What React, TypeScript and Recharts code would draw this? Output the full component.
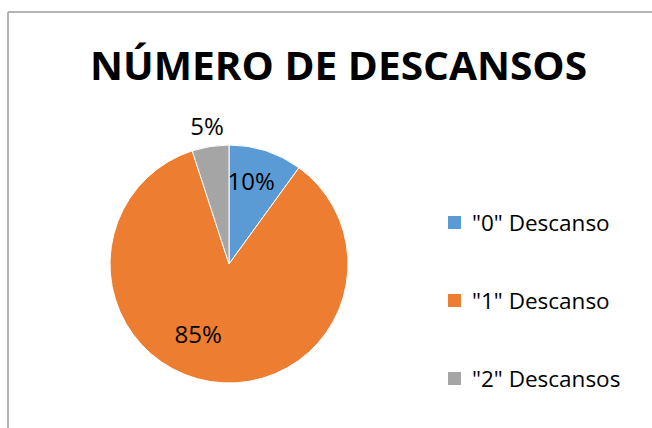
import React from 'react';
import { PieChart, Pie, Cell, Legend } from 'recharts';

const categories = ['"0" Descanso', '"1" Descanso', '"2" Descansos'];
const shares = [10, 85, 5];
const COLORS = ['#5B9BD5', '#ED7D31', '#A5A5A5'];

const data = categories.map((name, i) => ({ name, value: shares[i] }));

// Excel "best fit" label placement: radius in px from the centre, angle tweak in degrees
const labelRadius = [86, 76, 140];
const labelAngleShift = [3, -15, 0];
const RAD = Math.PI / 180;

const renderLabel = (props: any) => {
  const { cx, cy, midAngle, index, value } = props;
  const a = (midAngle + labelAngleShift[index]) * RAD;
  const r = labelRadius[index];
  const x = cx + r * Math.cos(a);
  const y = cy - r * Math.sin(a);
  return (
    <text
      x={x}
      y={y}
      textAnchor="middle"
      dominantBaseline="central"
      fill="#000"
      fontSize={24}
      fontFamily="'Open Sans', sans-serif"
    >
      {`${value}%`}
    </text>
  );
};

const renderLegend = (props: any) => {
  const { payload } = props;
  return (
    <div>
      {payload.map((entry: any) => (
        <div key={entry.value} style={{ display: 'flex', alignItems: 'center', height: 78 }}>
          <div style={{ width: 13, height: 13, backgroundColor: entry.color, marginRight: 11 }} />
          <span style={{ fontFamily: "'Open Sans', sans-serif", fontSize: 22.5, color: '#000' }}>{entry.value}</span>
        </div>
      ))}
    </div>
  );
};

export default function App() {
  return (
    <div style={{ position: 'absolute', left: 0, top: 0, width: 652, height: 428, background: '#fff', overflow: 'hidden' }}>
      <svg width={652} height={428} style={{ position: 'absolute', left: 0, top: 0 }}>
        <line x1={8} y1={12} x2={652} y2={12} stroke="#9c9c9c" strokeWidth={1.5} />
        <line x1={8} y1={12} x2={8} y2={428} stroke="#9c9c9c" strokeWidth={1.5} />
        <text
          x={338.5}
          y={80}
          textAnchor="middle"
          fontFamily="'Open Sans', sans-serif"
          fontWeight={700}
          fontSize={40}
          textLength={497}
          lengthAdjust="spacingAndGlyphs"
          fill="#000"
        >
          NÚMERO DE DESCANSOS
        </text>
      </svg>
      <div style={{ position: 'absolute', left: 0, top: 0 }}>
        <PieChart width={652} height={428} margin={{ top: 0, right: 0, bottom: 0, left: 0 }}>
          <Pie
            data={data}
            dataKey="value"
            nameKey="name"
            cx={229}
            cy={264}
            outerRadius={119}
            startAngle={90}
            endAngle={-270}
            stroke="#fff"
            strokeWidth={1}
            label={renderLabel}
            labelLine={false}
            isAnimationActive={false}
          >
            {data.map((entry, index) => (
              <Cell key={`cell-${index}`} fill={COLORS[index]} />
            ))}
          </Pie>
          <Legend
            layout="vertical"
            content={renderLegend}
            wrapperStyle={{ position: 'absolute', left: 448, top: 183, width: 200 }}
          />
        </PieChart>
      </div>
    </div>
  );
}
